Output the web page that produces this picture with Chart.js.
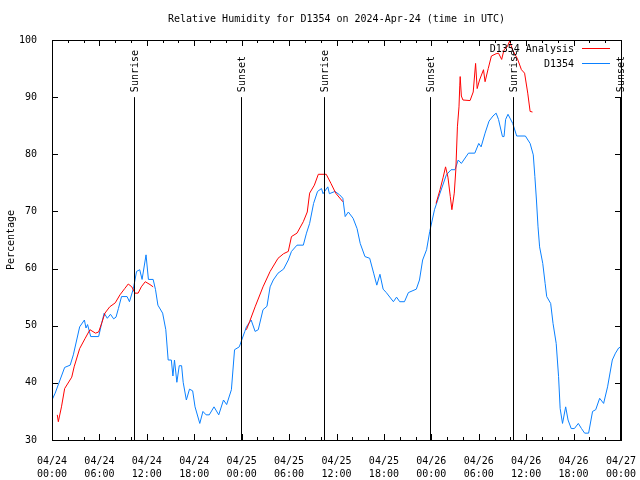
<!DOCTYPE html>
<html>
<head>
<meta charset="utf-8">
<script src="https://cdn.jsdelivr.net/npm/chart.js@4"></script>
<style>
  html, body { margin: 0; padding: 0; background: #fff; }
  canvas { display: block; }
</style>
</head>
<body>
<canvas id="chart" width="640" height="480"></canvas>
<script>
// ==============================
// DATA (hours since 04/24 00:00 UTC)
// ==============================
const obsHours = [
  0.0, 0.4, 1.6, 2.3, 2.7, 3.5, 4.1, 4.3, 4.5, 4.9, 5.9, 6.3, 6.6, 7.0, 7.4, 7.8, 8.1, 8.4, 8.8, 9.5,
  9.8, 10.3, 10.7, 11.1, 11.4, 11.9, 12.2, 12.8, 13.1, 13.4, 14.0, 14.4, 14.7, 15.1, 15.3, 15.5, 15.8, 16.1, 16.4, 16.6,
  17.0, 17.4, 17.8, 18.1, 18.7, 19.1, 19.5, 19.9, 20.5, 21.1, 21.7, 22.1, 22.7, 23.1, 23.7, 24.4, 24.6, 25.2, 25.7, 26.1,
  26.7, 27.2, 27.6, 28.0, 28.6, 29.3, 29.9, 30.3, 31.0, 31.8, 32.2, 32.6, 33.1, 33.6, 34.1, 34.3, 34.9, 35.1, 35.8, 36.4,
  36.8, 37.1, 37.5, 38.1, 38.6, 39.0, 39.6, 40.2, 40.7, 41.1, 41.5, 41.9, 42.3, 43.2, 43.6, 44.0, 44.6, 45.1, 46.1, 46.5,
  46.9, 47.4, 47.8, 48.4, 49.1, 49.9, 50.5, 51.0, 51.4, 51.8, 52.7, 53.5, 54.0, 54.3, 54.8, 55.3, 55.8, 56.2, 56.5, 57.0,
  57.2, 57.4, 57.7, 58.3, 58.8, 59.9, 60.5, 60.9, 61.1, 61.3, 61.5, 61.7, 62.1, 62.4, 62.6, 63.1, 63.4, 63.8, 64.1, 64.3,
  64.6, 65.0, 65.3, 65.7, 66.1, 66.6, 67.0, 67.4, 67.9, 68.4, 68.8, 69.3, 69.8, 70.3, 70.9, 71.3, 71.7, 72.0
];
const obsValues = [
  37.0, 38.2, 42.7, 43.1, 44.9, 49.8, 51.0, 49.6, 50.2, 48.1, 48.1, 50.5, 52.2, 51.3, 52.0, 51.2, 51.5, 53.0, 55.1, 55.1,
  54.2, 56.5, 59.5, 59.8, 58.1, 62.4, 58.1, 58.1, 56.3, 53.6, 52.2, 49.3, 44.0, 44.0, 41.2, 44.0, 40.1, 43.0, 43.0, 40.1,
  37.0, 38.9, 38.6, 35.8, 32.9, 35.0, 34.4, 34.4, 35.8, 34.4, 37.0, 36.2, 38.8, 45.8, 46.3, 49.0, 49.8, 51.0, 49.0, 49.3,
  52.8, 53.4, 56.8, 58.0, 59.2, 59.9, 61.5, 63.0, 64.1, 64.1, 66.2, 67.9, 71.4, 73.5, 74.0, 73.1, 74.3, 73.1, 73.5, 72.9,
  72.3, 69.1, 69.9, 68.8, 67.0, 64.4, 62.1, 61.8, 59.2, 57.1, 59.0, 56.4, 55.8, 54.2, 55.0, 54.2, 54.2, 55.8, 56.4, 58.0,
  61.5, 63.3, 66.5, 70.3, 73.2, 76.4, 77.3, 77.3, 79.0, 78.4, 80.2, 80.2, 81.9, 81.3, 83.7, 85.8, 86.7, 87.2, 86.1, 83.1,
  83.1, 86.1, 87.0, 85.4, 83.2, 83.2, 81.9, 79.9, 76.1, 72.0, 67.3, 63.8, 60.9, 57.4, 55.1, 53.9, 50.4, 46.9, 41.1, 35.5,
  32.9, 35.8, 33.5, 32.0, 32.0, 32.9, 32.0, 31.2, 31.2, 35.0, 35.3, 37.3, 36.4, 39.3, 44.0, 45.2, 46.1, 46.3
];

// analysis series, null = gap
const anaHours = [
  0.67, 0.8, 1.2, 1.6, 2.5, 2.8, 3.5, 4.2, 4.8, 5.5, 5.9, 6.3, 6.7, 7.3, 8.0, 8.6, 9.2, 9.65, 10.1, 10.5,
  10.9, 11.3, 11.8, 12.4, 12.8, 18.0,
  24.6, 25.0, 25.7, 26.7, 27.6, 28.6, 29.3, 29.9, 30.3, 31.0, 31.8, 32.3, 32.6, 33.2, 33.7, 34.7, 35.3, 35.9, 36.8, 42.0,
  48.6, 49.1, 49.5, 49.8, 50.1, 50.4, 50.6, 50.9, 51.1, 51.3, 51.5, 51.6, 51.65, 51.8, 52.0, 52.9, 53.3, 53.6, 53.8, 54.1,
  54.6, 54.8, 55.2, 55.6, 56.2, 56.5, 56.9, 57.2, 57.6, 57.9, 58.3, 58.9, 59.4, 59.8, 60.2, 60.5, 60.8
];
const anaValues = [
  34.4, 33.2, 35.8, 39.0, 41.0, 42.8, 46.0, 47.8, 49.3, 48.7, 48.9, 50.5, 52.2, 53.3, 54.0, 55.4, 56.5, 57.3, 56.8, 55.7,
  55.7, 56.8, 57.7, 57.2, 56.8, null,
  49.3, 50.7, 53.3, 56.8, 59.5, 61.8, 62.6, 63.0, 65.6, 66.2, 68.2, 69.9, 73.2, 74.6, 76.5, 76.5, 74.9, 73.2, 71.7, null,
  71.4, 73.8, 76.0, 77.8, 76.0, 72.6, 70.3, 73.2, 77.3, 84.8, 88.3, 92.1, 93.6, 90.2, 89.5, 89.4, 90.9, 95.9, 91.5, 93.0,
  94.8, 92.7, 95.0, 97.2, 97.6, 97.7, 96.6, 98.3, 98.8, 99.8, 98.2, 96.7, 94.8, 94.2, 90.7, 87.5, 87.4
];

// sunrise / sunset markers
const sunLabels = ["Sunrise", "Sunset", "Sunrise", "Sunset", "Sunrise", "Sunset"];
const sunHours = [10.38, 23.92, 34.42, 47.88, 58.33, 71.87];
const sunTop = 90;

// axis ticks
const xTickLabels = [
  ["04/24", "00:00"], ["04/24", "06:00"], ["04/24", "12:00"], ["04/24", "18:00"],
  ["04/25", "00:00"], ["04/25", "06:00"], ["04/25", "12:00"], ["04/25", "18:00"],
  ["04/26", "00:00"], ["04/26", "06:00"], ["04/26", "12:00"], ["04/26", "18:00"],
  ["04/27", "00:00"]
];
const seriesNames = ["D1354 Analysis", "D1354"];
const seriesColors = ["#ff0000", "#0a80ff"];

const FONT = "'DejaVu Sans Mono', monospace";

// ==============================
// BORDER, TICKS, SUN LINES, LEGEND
// ==============================
const frame = {
  id: "frame",
  afterDatasetsDraw(chart) {
    const { ctx, chartArea: a, scales } = chart;
    const xs = scales.x, ys = scales.y;
    ctx.save();
    ctx.strokeStyle = "#000";
    ctx.lineWidth = 1;

    // border box
    ctx.strokeRect(Math.round(a.left) + 0.5, Math.round(a.top) + 0.5,
      Math.round(a.right - a.left), Math.round(a.bottom - a.top));

    // x ticks (inside, top and bottom), major every 6h, minor every 2h
    ctx.beginPath();
    for (let h = 0; h <= 72; h += 2) {
      const x = Math.round(xs.getPixelForValue(h)) + 0.5;
      const len = h % 6 === 0 ? 6 : 3;
      ctx.moveTo(x, a.bottom); ctx.lineTo(x, a.bottom - len);
      ctx.moveTo(x, a.top); ctx.lineTo(x, a.top + len);
    }
    // y ticks both sides
    for (let v = 30; v <= 100; v += 10) {
      const y = Math.round(ys.getPixelForValue(v)) + 0.5;
      ctx.moveTo(a.left, y); ctx.lineTo(a.left + 6, y);
      ctx.moveTo(a.right, y); ctx.lineTo(a.right - 6, y);
    }
    ctx.stroke();

    // sunrise / sunset
    ctx.font = "10px " + FONT;
    ctx.fillStyle = "#000";
    const yTop = ys.getPixelForValue(sunTop);
    sunHours.forEach((h, i) => {
      const x = Math.round(xs.getPixelForValue(h)) + 0.5;
      ctx.beginPath();
      ctx.moveTo(x, yTop);
      ctx.lineTo(x, a.bottom);
      ctx.stroke();
      ctx.save();
      ctx.translate(x + 1, yTop - 5);
      ctx.rotate(-Math.PI / 2);
      ctx.textAlign = "left";
      ctx.textBaseline = "middle";
      ctx.fillText(sunLabels[i], 0, 0);
      ctx.restore();
    });

    // legend (gnuplot style, top right)
    ctx.textAlign = "right";
    ctx.textBaseline = "middle";
    seriesNames.forEach((name, i) => {
      const y = a.top + 8 + i * 15;
      ctx.fillStyle = "#000";
      ctx.fillText(name, a.right - 47, y + 1);
      ctx.strokeStyle = seriesColors[i];
      ctx.beginPath();
      ctx.moveTo(a.right - 39, Math.round(y) + 0.5);
      ctx.lineTo(a.right - 11, Math.round(y) + 0.5);
      ctx.stroke();
    });
    ctx.restore();
  }
};

// ==============================
// CHART
// ==============================
new Chart(document.getElementById("chart"), {
  type: "line",
  data: {
    datasets: [
      {
        label: seriesNames[0],
        data: anaHours.map((h, i) => ({ x: h, y: anaValues[i] })),
        borderColor: seriesColors[0],
        borderWidth: 1,
        pointRadius: 0,
        spanGaps: false,
        tension: 0
      },
      {
        label: seriesNames[1],
        data: obsHours.map((h, i) => ({ x: h, y: obsValues[i] })),
        borderColor: seriesColors[1],
        borderWidth: 1,
        pointRadius: 0,
        tension: 0
      }
    ]
  },
  options: {
    responsive: false,
    animation: false,
    devicePixelRatio: 1,
    layout: { padding: { left: 0, right: 19, top: 0, bottom: 0 } },
    plugins: {
      legend: { display: false },
      tooltip: { enabled: false },
      title: {
        display: true,
        fullSize: false, // centre over the plot, like gnuplot
        text: "Relative Humidity for D1354 on 2024-Apr-24 (time in UTC)",
        color: "#000",
        font: { family: FONT, size: 10, weight: "normal", lineHeight: 1.2 },
        padding: { top: 13, bottom: 15 }
      }
    },
    scales: {
      x: {
        type: "linear",
        min: 0,
        max: 72,
        grid: { display: false },
        border: { display: false },
        afterFit: s => { s.height = 40; s.paddingLeft = 0; s.paddingRight = 0; },
        afterBuildTicks: s => {
          s.ticks = xTickLabels.map((_, i) => ({ value: i * 6 }));
        },
        ticks: {
          autoSkip: false,
          maxRotation: 0,
          padding: 7,
          color: "#000",
          font: { family: FONT, size: 10, lineHeight: 1.3 },
          callback: (v, i) => xTickLabels[i]
        }
      },
      y: {
        min: 30,
        max: 100,
        grid: { display: false },
        border: { display: false },
        afterFit: s => { s.width = 52; s.paddingTop = 0; s.paddingBottom = 0; },
        ticks: {
          stepSize: 10,
          padding: 7,
          color: "#000",
          font: { family: FONT, size: 10 }
        },
        title: {
          display: true,
          text: "Percentage",
          color: "#000",
          font: { family: FONT, size: 10, lineHeight: 1.2 },
          padding: { top: 5, bottom: 0 }
        }
      }
    }
  },
  plugins: [frame]
});
</script>
</body>
</html>
